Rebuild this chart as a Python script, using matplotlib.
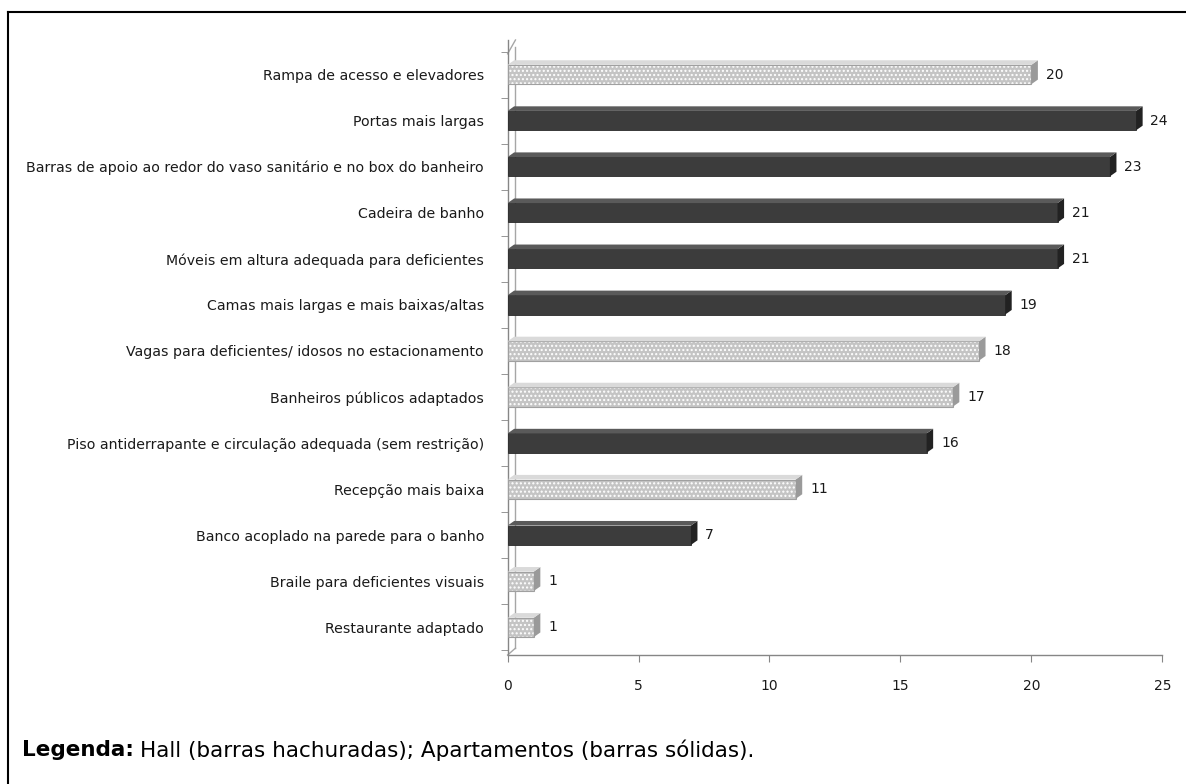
import matplotlib
matplotlib.use("Agg")
import matplotlib.pyplot as plt
from matplotlib.patches import Polygon
from matplotlib.lines import Line2D

categories = [
    "Rampa de acesso e elevadores",
    "Portas mais largas",
    "Barras de apoio ao redor do vaso sanitário e no box do banheiro",
    "Cadeira de banho",
    "Móveis em altura adequada para deficientes",
    "Camas mais largas e mais baixas/altas",
    "Vagas para deficientes/ idosos no estacionamento",
    "Banheiros públicos adaptados",
    "Piso antiderrapante e circulação adequada (sem restrição)",
    "Recepção mais baixa",
    "Banco acoplado na parede para o banho",
    "Braile para deficientes visuais",
    "Restaurante adaptado",
]
values = [20, 24, 23, 21, 21, 19, 18, 17, 16, 11, 7, 1, 1]
groups = ["Hall", "Apartamentos", "Apartamentos", "Apartamentos", "Apartamentos",
          "Apartamentos", "Hall", "Hall", "Apartamentos", "Hall", "Apartamentos",
          "Hall", "Hall"]
xticks = [0, 5, 10, 15, 20, 25]

plt.rcParams["font.family"] = ["DejaVu Sans"]

fig = plt.figure(figsize=(11.86, 7.84), dpi=100)
ax = fig.add_axes([0.428, 0.1645, 0.552, 0.7845])

ypos = list(range(len(categories)))
h = 0.42
depth_x = 0.25
depth_y = 0.10
for y, v, g in zip(ypos, values, groups):
    if g == "Hall":
        ax.barh(y, v, height=h, color="#c4c4c4", edgecolor="white", hatch="....",
                linewidth=0, zorder=3)
        ax.barh(y, v, height=h, facecolor="none", edgecolor="#a0a0a0",
                linewidth=0.8, zorder=4)
        side = "#9a9a9a"
        top = "#dadada"
    else:
        ax.barh(y, v, height=h, color="#3c3c3c", edgecolor="#2a2a2a",
                linewidth=0.6, zorder=3)
        side = "#222222"
        top = "#5a5a5a"
    ax.add_patch(Polygon([(v, y - h / 2), (v + depth_x, y - h / 2 - depth_y),
                          (v + depth_x, y + h / 2 - depth_y), (v, y + h / 2)],
                         closed=True, facecolor=side, edgecolor="none", zorder=4))
    ax.add_patch(Polygon([(0, y - h / 2), (depth_x, y - h / 2 - depth_y),
                          (v + depth_x, y - h / 2 - depth_y), (v, y - h / 2)],
                         closed=True, facecolor=top, edgecolor="none", zorder=4))
    ax.text(v + depth_x + 0.3, y, str(v), va="center", ha="left",
            fontsize=10, color="#1a1a1a", zorder=5)

ax.set_xlim(0, 25)
ax.set_ylim(12.6, -0.75)
ax.set_xticks(xticks)
ax.set_xticklabels([str(t) for t in xticks], fontsize=10, color="#1a1a1a")
ax.set_yticks(ypos)
ax.set_yticklabels(categories, fontsize=10.2, color="#1a1a1a")
ax.set_yticks([i + 0.5 for i in range(-1, len(categories))], minor=True)
ax.tick_params(axis="y", which="major", length=0, pad=17)
ax.tick_params(axis="y", which="minor", length=5, color="#868686", direction="out")
ax.tick_params(axis="x", which="major", length=5, color="#868686", direction="out", pad=12)

for s in ["top", "right"]:
    ax.spines[s].set_visible(False)
for s in ["left", "bottom"]:
    ax.spines[s].set_color("#868686")
    ax.spines[s].set_linewidth(1.0)

ax.plot([0.3, 0.3], [12.45, -0.6], color="#a6a6a6", lw=1.0, zorder=2, clip_on=False)
ax.plot([0, 0.3], [12.6, 12.45], color="#a6a6a6", lw=1.0, zorder=2, clip_on=False)
ax.plot([0, 0.3], [-0.45, -0.75], color="#a6a6a6", lw=1.0, zorder=2, clip_on=False)

fig.add_artist(Line2D([8 / 1186, 1.0], [1 - 12 / 784, 1 - 12 / 784], color="black", lw=1.5))
fig.add_artist(Line2D([8 / 1186, 8 / 1186], [0, 1 - 12 / 784], color="black", lw=1.5))

t1 = fig.text(22 / 1186, 1 - 750 / 784, "Legenda:", fontsize=15.5, fontweight="bold",
              va="center", ha="left", color="black")
fig.canvas.draw()
bb = t1.get_window_extent()
fig.text((bb.x1 + 6) / 1186, 1 - 750 / 784,
         "Hall (barras hachuradas); Apartamentos (barras sólidas).",
         fontsize=15.5, va="center", ha="left", color="black")

fig.savefig("out.png", dpi=100)
